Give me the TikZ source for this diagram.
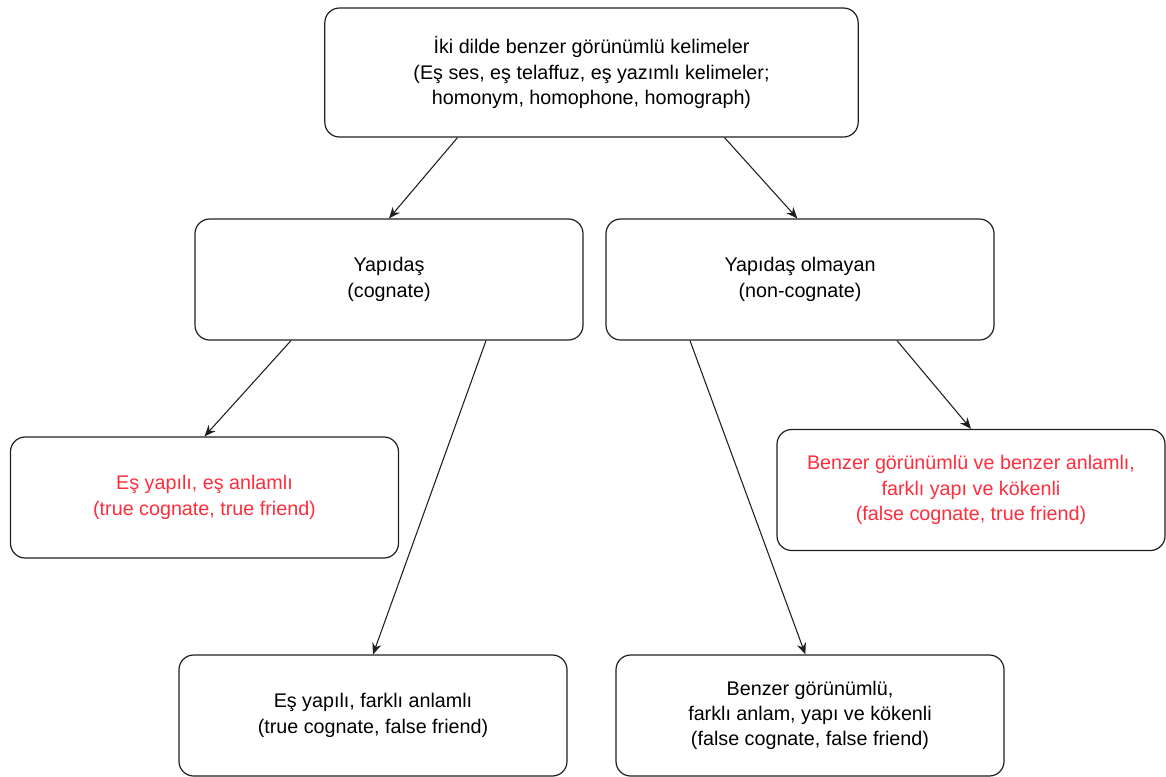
\documentclass[tikz,border=0pt]{standalone}
\usepackage{fontspec}
\setmainfont{Liberation Sans}
\usepackage{xcolor}
\definecolor{SoftRed}{RGB}{255,45,60}
\definecolor{EdgeGray}{RGB}{30,30,30}
\usetikzlibrary{arrows.meta, positioning}

\begin{document}
\begin{tikzpicture}[x=0.75pt,y=-0.75pt,
        box/.style={draw=EdgeGray,line width=0.9pt,rounded corners=11pt,
                    minimum width=291pt,minimum height=90.75pt,inner sep=0pt,
                    font=\fontsize{14.8}{19}\selectfont,align=center},
        link/.style={-{Stealth[length=8.5pt,width=7pt]},line width=0.8pt,draw=EdgeGray}]
        \useasboundingbox (0,0) rectangle (1166,776);
        % top level
        \node[box,minimum width=400pt,minimum height=96.75pt] (top) at (591.5,72.5)
          {İki dilde benzer görünümlü kelimeler\\(Eş ses, eş telaffuz, eş yazımlı kelimeler;\\homonym, homophone, homograph)};
        % second level
        \node[box] (cog) at (389,279.5) {Yapıdaş\\(cognate)};
        \node[box] (noncog) at (800,279.5) {Yapıdaş olmayan\\(non-cognate)};
        % leaves
        \node[box,text=SoftRed] (tt) at (204.5,497.5)
          {Eş yapılı, eş anlamlı\\(true cognate, true friend)};
        \node[box,text=SoftRed] (tf) at (971,490)
          {Benzer görünümlü ve benzer anlamlı,\\farklı yapı ve kökenli\\(false cognate, true friend)};
        \node[box] (ttf) at (373,715.5)
          {Eş yapılı, farklı anlamlı\\(true cognate, false friend)};
        \node[box] (ff) at (810,715.5)
          {Benzer görünümlü,\\farklı anlam, yapı ve kökenli\\(false cognate, false friend)};
        % arrows
        \draw[link] ([xshift=-100.5pt]top.south) -- (cog.north);
        \draw[link] ([xshift=99.75pt]top.south) -- ([xshift=-2pt]noncog.north);
        \draw[link] ([xshift=-73.5pt]cog.south) -- (tt.north);
        \draw[link] ([xshift=72.75pt]cog.south) -- (ttf.north);
        \draw[link] ([xshift=-82.5pt]noncog.south) -- ([xshift=-3.5pt]ff.north);
        \draw[link] ([xshift=72.75pt]noncog.south) -- (tf.north);
      \end{tikzpicture}
\end{document}
